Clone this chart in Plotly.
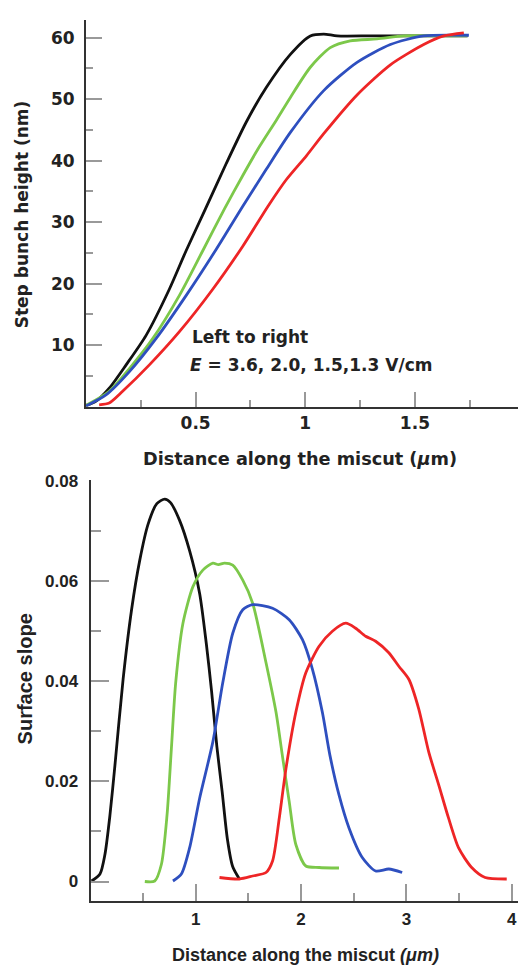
import plotly.graph_objects as go

# ---------------- Top panel: step bunch height (nm) vs distance (um) ----------------
top_black_x = [0, 0.046, 0.106, 0.183, 0.274, 0.38, 0.457, 0.54, 0.639, 0.731, 0.822, 0.932, 1.023, 1.084, 1.145, 1.3, 1.5, 1.74]
top_black_y = [0.2, 0.9, 3.0, 6.8, 11.6, 19.1, 25.4, 31.8, 39.5, 46.3, 51.9, 57.3, 60.3, 60.6, 60.3, 60.3, 60.3, 60.3]

top_green_x = [0, 0.106, 0.198, 0.305, 0.426, 0.533, 0.632, 0.715, 0.791, 0.868, 0.932, 1.023, 1.114, 1.205, 1.327, 1.449, 1.6, 1.74]
top_green_y = [0.2, 2.5, 6.2, 11.1, 18.1, 25.4, 32.2, 37.6, 42.3, 46.6, 50.3, 55.2, 58.4, 59.5, 59.8, 60.3, 60.3, 60.3]

top_blue_x = [0, 0.091, 0.198, 0.32, 0.457, 0.594, 0.715, 0.822, 0.932, 1.084, 1.236, 1.388, 1.54, 1.746]
top_blue_y = [0.1, 1.9, 5.7, 11.1, 18.1, 25.6, 32.6, 38.6, 44.6, 51.4, 56.0, 58.9, 60.3, 60.4]

top_red_x = [0.06, 0.106, 0.167, 0.289, 0.426, 0.578, 0.715, 0.83, 0.913, 1.005, 1.084, 1.236, 1.388, 1.54, 1.632, 1.723]
top_red_y = [0.3, 0.6, 2.5, 6.8, 12.2, 19.1, 26.1, 32.6, 36.9, 40.8, 44.4, 50.7, 55.6, 58.9, 60.3, 60.8]

# ---------------- Bottom panel: surface slope vs distance (um) ----------------
bot_black_x = [0.01, 0.09, 0.137, 0.185, 0.232, 0.31, 0.39, 0.468, 0.547, 0.63, 0.705, 0.76, 0.847, 0.941, 1.036, 1.1, 1.15, 1.2, 1.25, 1.3, 1.35, 1.414]
bot_black_y = [0.0001, 0.0015, 0.0054, 0.0133, 0.0232, 0.0405, 0.0543, 0.0642, 0.0714, 0.0755, 0.0764, 0.0757, 0.0721, 0.0661, 0.0576, 0.0475, 0.038, 0.027, 0.018, 0.0085, 0.003, 0.0005]

bot_green_x = [0.516, 0.61, 0.673, 0.727, 0.768, 0.809, 0.878, 0.973, 1.067, 1.162, 1.215, 1.272, 1.351, 1.446, 1.54, 1.667, 1.762, 1.824, 1.887, 1.95, 2.045, 2.171, 2.36]
bot_green_y = [0.0, 0.0001, 0.0034, 0.0133, 0.0265, 0.0397, 0.0516, 0.0589, 0.0622, 0.0636, 0.0633, 0.0636, 0.0632, 0.0602, 0.0556, 0.0437, 0.0338, 0.0249, 0.0160, 0.0074, 0.0031, 0.0028, 0.0027]

bot_blue_x = [0.783, 0.863, 0.941, 1.036, 1.162, 1.256, 1.351, 1.446, 1.54, 1.729, 1.887, 2.013, 2.108, 2.202, 2.274, 2.36, 2.455, 2.581, 2.708, 2.833, 2.96]
bot_blue_y = [0.0001, 0.0015, 0.0067, 0.0166, 0.0279, 0.0397, 0.0496, 0.0543, 0.0553, 0.0546, 0.0523, 0.0483, 0.0424, 0.0338, 0.0252, 0.0173, 0.0107, 0.0048, 0.0021, 0.0025, 0.0018]

bot_red_x = [1.225, 1.414, 1.54, 1.667, 1.729, 1.793, 1.856, 1.95, 2.045, 2.171, 2.297, 2.424, 2.518, 2.613, 2.708, 2.833, 2.928, 3.023, 3.117, 3.212, 3.307, 3.4, 3.496, 3.62, 3.748, 3.953]
bot_red_y = [0.0008, 0.0005, 0.0011, 0.0018, 0.0041, 0.0127, 0.0225, 0.0338, 0.0417, 0.0470, 0.0500, 0.0516, 0.0506, 0.0490, 0.0480, 0.0457, 0.0430, 0.0404, 0.0345, 0.0259, 0.0193, 0.0127, 0.0067, 0.0028, 0.0008, 0.0005]

top_xticks = [0.5, 1, 1.5]
top_xticklabels = ["0.5", "1", "1.5"]
top_xminor = [0.25, 0.75, 1.25, 1.75]
top_yticks = [10, 20, 30, 40, 50, 60]
top_yminor = [5, 15, 25, 35, 45, 55]

bot_xticks = [1, 2, 3, 4]
bot_xminor = [0.5, 1.5, 2.5, 3.5]
bot_yticks = [0, 0.02, 0.04, 0.06, 0.08]
bot_yticklabels = ["0", "0.02", "0.04", "0.06", "0.08"]
bot_yminor = [0.01, 0.03, 0.05, 0.07]

BLACK = "#111111"
GREEN = "#7cc84a"
BLUE = "#2e4fbf"
RED = "#ee2526"

W, H = 518, 965
FONT_TOP = "DejaVu Sans"
FONT_BOT = "Liberation Sans"
TXT = "#222222"

fig = go.Figure()

def add(x, y, color, xa, ya):
    fig.add_trace(go.Scatter(x=x, y=y, mode="lines",
                             line=dict(color=color, width=2.8, shape="spline", smoothing=0.7),
                             xaxis=xa, yaxis=ya, showlegend=False, hoverinfo="skip"))

add(top_black_x, top_black_y, BLACK, "x", "y")
add(top_green_x, top_green_y, GREEN, "x", "y")
add(top_blue_x, top_blue_y, BLUE, "x", "y")
add(top_red_x, top_red_y, RED, "x", "y")

add(bot_black_x, bot_black_y, BLACK, "x2", "y2")
add(bot_green_x, bot_green_y, GREEN, "x2", "y2")
add(bot_blue_x, bot_blue_y, BLUE, "x2", "y2")
add(bot_red_x, bot_red_y, RED, "x2", "y2")

def px_x(p):
    return p / W

def px_y(p):
    return (H - p) / H

def axis(font_family, size):
    return dict(showgrid=False, zeroline=False, showline=True, linecolor="#333333", linewidth=2,
                ticks="inside", tickcolor="#999999", tickwidth=1.5, ticklabeloverflow="allow",
                tickfont=dict(family=font_family, size=size, color=TXT, weight="bold"))

def minor(vals, ln):
    return dict(tickvals=vals, ticks="inside", ticklen=ln, tickcolor="#999999", tickwidth=1.5)

fig.update_layout(
    width=W, height=H,
    margin=dict(l=0, r=0, t=0, b=0),
    paper_bgcolor="white", plot_bgcolor="white",
    xaxis=dict(**axis(FONT_TOP, 17), domain=[px_x(86), 1], anchor="y", range=[0, 1.97],
               tickvals=top_xticks, ticktext=top_xticklabels, ticklen=15, ticklabelstandoff=0,
               minor=minor(top_xminor, 7)),
    yaxis=dict(**axis(FONT_TOP, 17), domain=[px_y(402), px_y(12)], anchor="x", range=[0, 62.9],
               tickvals=top_yticks, ticklen=16, ticklabelstandoff=6,
               minor=minor(top_yminor, 7)),
    xaxis2=dict(**axis(FONT_BOT, 17), domain=[px_x(90.5), 1], anchor="y2", range=[0, 4.06],
                tickvals=bot_xticks, ticklen=17, ticklabelstandoff=2,
                minor=minor(bot_xminor, 8)),
    yaxis2=dict(**axis(FONT_BOT, 17), domain=[px_y(900), px_y(476)], anchor="x2", range=[-0.0038, 0.0802],
                tickvals=bot_yticks, ticktext=bot_yticklabels, ticklen=18, ticklabelstandoff=7,
                minor=minor(bot_yminor, 10)),
)

ft = dict(family=FONT_TOP, size=17, color=TXT, weight="bold")
fb = dict(family=FONT_BOT, size=18, color=TXT, weight="bold")
annos = [
    dict(x=px_x(300), y=px_y(455), text="Distance along the miscut (<i>μ</i>m)", font=dict(ft, size=17.7)),
    dict(x=px_x(22), y=px_y(208), text="Step bunch height (nm)", textangle=-90, font=ft),
    dict(x=px_x(305), y=px_y(955), text="Distance along the miscut <i>(μm)</i>", font=fb),
    dict(x=px_x(25), y=px_y(677), text="Surface slope", textangle=-90, font=dict(fb, size=20)),
    dict(x=px_x(190), y=px_y(332), text="Left to right", xanchor="left", font=ft),
    dict(x=px_x(188), y=px_y(360), text="<i>E</i> = 3.6, 2.0, 1.5,1.3 V/cm", xanchor="left", font=ft),
]
for a in annos:
    a.setdefault("xanchor", "center")
    fig.add_annotation(xref="paper", yref="paper", yanchor="middle", showarrow=False, **a)

fig.write_html("out.html", config={"displayModeBar": False},
               post_script="document.body.style.margin='0';document.body.style.overflow='hidden';")
